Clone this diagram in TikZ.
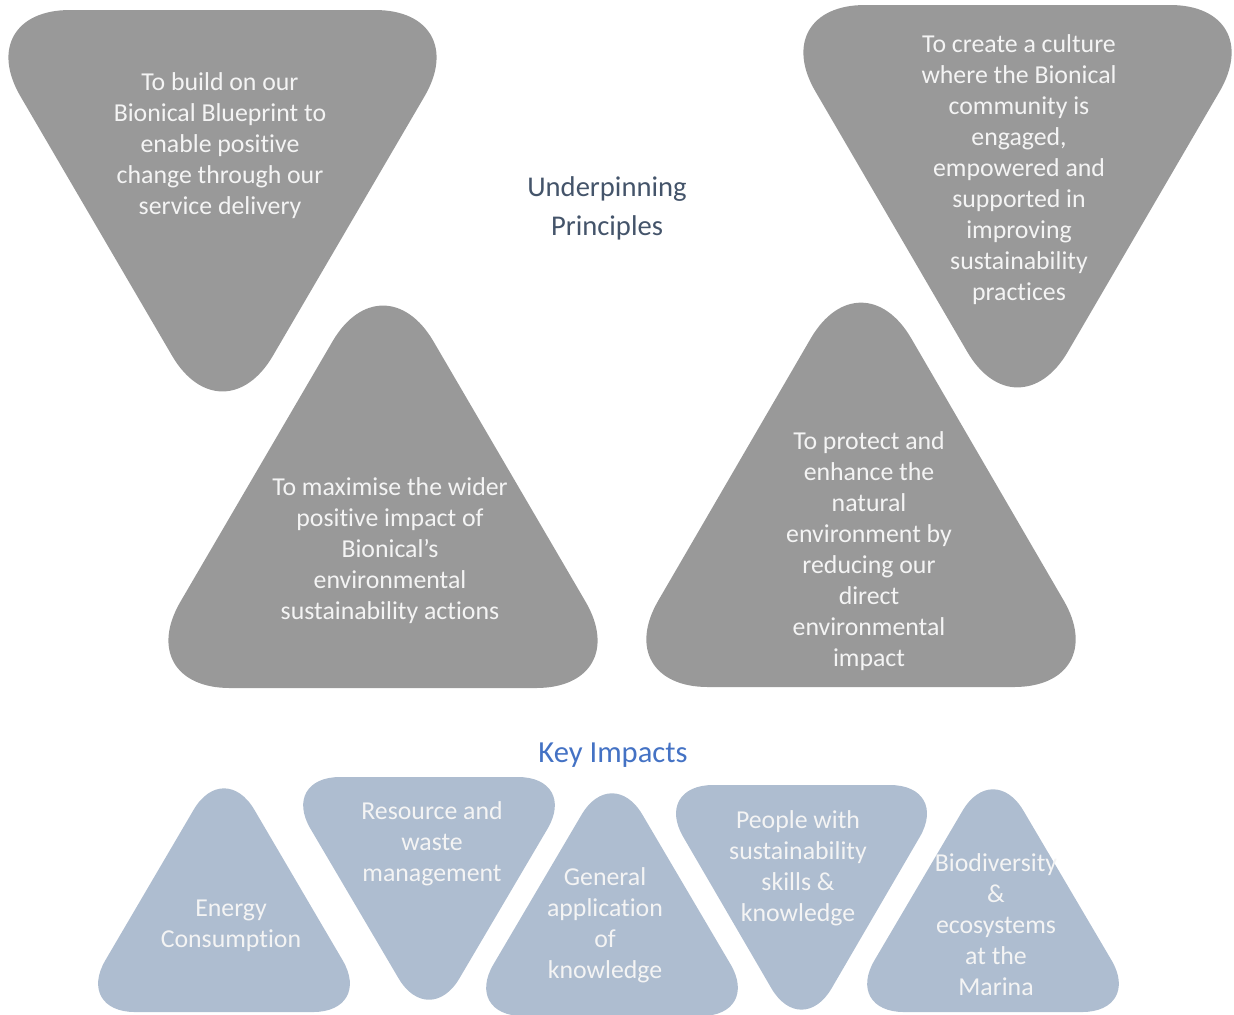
\documentclass[tikz,border=0pt]{standalone}
\usepackage{fontspec}
\setmainfont{Carlito}[Ligatures=NoCommon]
\definecolor{aimgray}{HTML}{999999}
\definecolor{impactblue}{HTML}{AEBDD0}
\definecolor{softwhite}{HTML}{F4F4F4}
\definecolor{slate}{HTML}{44546A}
\definecolor{keyblue}{HTML}{4472C4}

\begin{document}
\begin{tikzpicture}[x=0.5pt,y=-0.5pt,
   principle/.style={fill=aimgray,rounded corners=50pt},
   impact/.style={fill=impactblue,rounded corners=30pt},
   intext/.style={text=softwhite,align=center,font=\fontsize{12.9}{15.5}\selectfont},
   heading/.style={align=center,font=\fontsize{14.3}{19.5}\selectfont}]
   \useasboundingbox (0,0) rectangle (1234,1014);
   % underpinning principles
   \fill[principle] (-30,10) -- (475,10) -- (222.5,442) -- cycle;
   \fill[principle] (765,5) -- (1270,5) -- (1017.5,438) -- cycle;
   \fill[principle] (130,688) -- (636,688) -- (383,255) -- cycle;
   \fill[principle] (608,687) -- (1114,687) -- (861,252) -- cycle;
   \node[intext] (build) at (220,146) {To build on our\\Bionical Blueprint to\\enable positive\\change through our\\service delivery};
   \node[intext] (culture) at (1019,170) {To create a culture\\where the Bionical\\community is\\engaged,\\empowered and\\supported in\\improving\\sustainability\\practices};
   \node[intext] (maximise) at (390,551) {To maximise the wider\\positive impact of\\Bionical’s\\environmental\\sustainability actions};
   \node[intext] (protect) at (869,551) {To protect and\\enhance the\\natural\\environment by\\reducing our\\direct\\environmental\\impact};
   \node[heading,text=slate] (under) at (607,208) {Underpinning\\Principles};
   % key impacts
   \node[heading,text=keyblue,font=\fontsize{15.3}{19.5}\selectfont] (key) at (613,755) {Key Impacts};
   \fill[impact] (75,1012) -- (373,1012) -- (224,758) -- cycle;
   \fill[impact] (280,777) -- (578,777) -- (429,1030) -- cycle;
   \fill[impact] (463,1016) -- (761,1016) -- (612,763) -- cycle;
   \fill[impact] (653,785) -- (950,785) -- (801.5,1040) -- cycle;
   \fill[impact] (844,1012) -- (1142,1012) -- (993,759) -- cycle;
   \node[intext] (energy) at (231,925.5) {Energy\\Consumption};
   \node[intext] (waste) at (432,844) {Resource and\\waste\\management};
   \node[intext] (general) at (605,925.5) {General\\application\\of\\knowledge};
   \node[intext] (people) at (798,868.5) {People with\\sustainability\\skills \&\\knowledge};
   \node[intext] (biodiv) at (996,925) {Biodiversity\\\&\\ecosystems\\at the\\Marina};
\end{tikzpicture}
\end{document}
